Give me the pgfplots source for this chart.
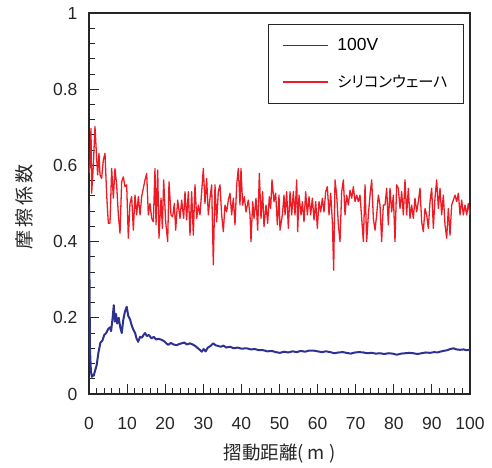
\documentclass[border=0pt]{standalone}
\usepackage{pgfplots}
\pgfplotsset{compat=1.18}
\usepackage{fontspec}
\setmainfont{Liberation Sans}
\newfontfamily\cjk{Noto Sans CJK JP}
\newfontfamily\cjkp[RawFeature={+palt}]{Noto Sans CJK JP}
\definecolor{cblue}{RGB}{46,49,146}
\definecolor{cred}{RGB}{237,28,36}
\begin{document}
\begin{tikzpicture}
\useasboundingbox (-89pt,-73pt) rectangle (403pt,394pt);
\begin{axis}[
  at={(0,0)}, anchor=south west,
  scale only axis, width=381pt, height=381pt,
  xmin=0, xmax=100, ymin=0, ymax=1,
  xtick={0,10,...,100}, ytick={0,0.2,...,1},
  minor x tick num=4, minor y tick num=4,
  tick align=inside, xtick pos=lower, ytick pos=left,
  major tick length=10pt, minor tick length=6pt,
  axis line style={black!85, line width=1.1pt},
  every tick/.style={black!85, line width=0.9pt},
  /pgf/number format/assume math mode=true,
  /pgf/number format/fixed,
  ticklabel style={font=\fontsize{17.5}{20}\selectfont, text=black!85},
  yticklabel style={xshift=-8pt},
  xticklabel style={yshift=-20pt},
  xlabel={\cjk 摺動距離( m )},
  ylabel={\cjk 摩\kern3pt擦\kern3pt係\kern3pt数},
  xlabel style={font=\fontsize{18.5}{20}\selectfont, at={(axis description cs:0.5,-0.155)}, anchor=center, text=black!85},
  ylabel style={font=\fontsize{19}{20}\selectfont, at={(axis description cs:-0.171,0.49)}, anchor=center, text=black!85},
  legend style={at={(0.984,0.971)}, anchor=north east, draw=black!85, line width=0.9pt,
    inner xsep=13.5pt, inner ysep=12pt, row sep=19pt,
    font=\fontsize{17.5}{20}\selectfont, cells={anchor=west}},
]
\addplot[cblue, line width=2pt, line join=round,
  legend image code/.code={\draw[draw=cblue, line width=1.4pt] (0pt,0pt) -- (45pt,0pt);}] coordinates {
(0,0.50) (0.25,0.12) (0.5,0.06) (0.75,0.045) (1,0.05) (1.25,0.048) (1.5,0.058) (2,0.075) (2.5,0.11) (3,0.135) (3.5,0.14) (4,0.155) (4.5,0.16) (5,0.17) (5.5,0.175) (5.8,0.165) (6.2,0.20) (6.5,0.233) (6.8,0.19) (7.1,0.21) (7.4,0.185) (7.8,0.20) (8.2,0.175) (8.6,0.16) (9,0.195) (9.4,0.215) (9.9,0.229) (10.3,0.205) (10.8,0.195) (11.2,0.18) (11.6,0.17) (12.1,0.16) (12.5,0.145) (12.9,0.137) (13.4,0.15) (13.9,0.148) (14.3,0.155) (14.7,0.16) (15.2,0.152) (15.7,0.155) (16.4,0.146) (17,0.15) (17.6,0.143) (18.3,0.145) (19.1,0.142) (19.8,0.138) (20.4,0.132) (20.8,0.129) (21.5,0.134) (22.2,0.13) (23,0.128) (23.6,0.131) (24.3,0.133) (25,0.135) (25.7,0.13) (26.5,0.133) (27.2,0.13) (27.9,0.126) (28.6,0.12) (29.2,0.115) (29.6,0.111) (30.1,0.118) (30.6,0.112) (31.2,0.122) (31.9,0.126) (32.6,0.133) (33.2,0.128) (33.9,0.126) (34.6,0.124) (35.3,0.127) (36,0.122) (37,0.124) (38,0.12) (39,0.122) (40,0.119) (41.4,0.12) (42.5,0.117) (43.5,0.118) (44.6,0.115) (45.7,0.115) (46.8,0.112) (48,0.113) (49,0.11) (50.1,0.108) (51.2,0.111) (52.3,0.109) (53.4,0.112) (54.5,0.11) (55.6,0.113) (56.7,0.111) (57.8,0.114) (58.9,0.114) (60,0.112) (61.1,0.11) (62.2,0.112) (63.3,0.11) (64.4,0.107) (65.5,0.109) (66.6,0.11) (67.6,0.108) (68.7,0.106) (69.8,0.109) (70.9,0.11) (72,0.109) (73.1,0.107) (74.2,0.108) (75.3,0.106) (76.4,0.107) (77.5,0.105) (78.6,0.107) (79.7,0.106) (80.8,0.103) (81.9,0.106) (83,0.107) (84.1,0.108) (85.1,0.107) (86.2,0.105) (87.3,0.107) (88.4,0.109) (89.5,0.108) (90.6,0.11) (91.5,0.109) (92.1,0.111) (93,0.113) (94,0.115) (94.8,0.118) (95.6,0.12) (96.5,0.117) (97.4,0.116) (98.3,0.117) (99.1,0.115) (100,0.116)
};
\addlegendentry{\hspace{7pt}100V}
\addplot[cred, line width=1.3pt, line join=round,
  legend image code/.code={\draw[draw=cred, line width=1.4pt] (0pt,0pt) -- (45pt,0pt);}] coordinates {
(0,0.58) (0.26,0.601) (0.52,0.697) (0.70,0.527) (1.14,0.601) (1.57,0.702) (2.01,0.619) (2.27,0.575) (2.62,0.632) (2.89,0.575) (3.32,0.566) (3.76,0.614) (4.2,0.632) (4.64,0.522) (5.07,0.448) (5.51,0.448) (5.95,0.592) (6.39,0.514) (6.82,0.592) (7.26,0.549) (7.7,0.470) (8.14,0.422) (8.57,0.557) (9.01,0.570) (9.45,0.544) (9.89,0.549) (10.32,0.409) (10.76,0.500) (11.2,0.518) (11.64,0.430) (12.07,0.522) (12.51,0.470) (12.95,0.518) (13.39,0.470) (13.82,0.518) (14.26,0.540) (14.7,0.562) (15.14,0.579) (15.57,0.470) (16.01,0.500) (16.45,0.461) (16.89,0.452) (17.32,0.592) (17.59,0.444) (18.03,0.588) (18.37,0.409) (18.9,0.514) (19.25,0.435) (19.6,0.562) (20.12,0.452) (20.65,0.400) (21.0,0.557) (21.52,0.470) (21.96,0.465) (22.4,0.500) (22.75,0.430) (23.27,0.509) (23.88,0.461) (24.32,0.509) (24.85,0.461) (25.2,0.531)
(25.63,0.457) (26.07,0.531) (26.51,0.417) (26.94,0.531) (27.38,0.417) (27.82,0.549) (28.26,0.461) (28.69,0.496) (29.13,0.470) (29.57,0.531) (30.01,0.592) (30.44,0.500) (30.88,0.566) (31.32,0.470) (31.76,0.514) (32.19,0.549) (32.63,0.339) (33.07,0.549) (33.51,0.452) (33.94,0.531) (34.38,0.549) (34.82,0.470) (35.26,0.426) (35.69,0.496) (36.13,0.478) (36.57,0.509) (37.01,0.527) (37.44,0.470) (37.88,0.514) (38.32,0.444) (38.76,0.549) (39.19,0.592) (39.63,0.496) (39.89,0.592) (40.33,0.496) (40.77,0.518) (41.21,0.478) (41.82,0.509) (42.26,0.470) (42.52,0.400) (42.96,0.505) (43.31,0.461) (43.83,0.514) (44.27,0.430) (44.71,0.579) (45.14,0.461) (45.58,0.531) (45.93,0.439) (46.46,0.496) (46.89,0.448) (47.33,0.518) (47.68,0.487) (48.03,0.562) (48.56,0.505) (48.99,0.527) (49.43,0.444) (49.87,0.522) (50.13,0.430)
(50.75,0.470) (51.18,0.522) (51.45,0.470) (51.88,0.531) (52.32,0.435) (52.76,0.531) (53.2,0.470) (53.63,0.531) (54.07,0.470) (54.51,0.562) (54.77,0.426) (55.12,0.522) (55.65,0.470) (56.0,0.505) (56.43,0.452) (56.87,0.531) (57.31,0.470) (57.75,0.518) (58.18,0.470) (58.62,0.514) (59.06,0.457) (59.5,0.505) (59.93,0.435) (60.37,0.505) (60.81,0.478) (61.25,0.514) (61.68,0.478) (62.12,0.531) (62.56,0.544) (63.0,0.470) (63.43,0.527) (63.87,0.452) (64.22,0.325) (64.57,0.562) (65.01,0.522) (65.45,0.444) (65.88,0.400) (66.32,0.531) (66.76,0.562) (67.2,0.470) (67.63,0.522) (68.07,0.496) (68.51,0.535) (68.95,0.514) (69.38,0.544) (69.82,0.505) (70.26,0.522) (70.7,0.505) (71.13,0.522) (71.57,0.461) (72.01,0.400) (72.45,0.549) (72.88,0.400) (73.32,0.470) (73.76,0.522) (74.2,0.562) (74.63,0.461) (75.07,0.430)
(75.5,0.470) (75.94,0.522) (76.38,0.496) (76.81,0.400) (77.25,0.496) (77.69,0.496) (78.13,0.540) (78.56,0.444) (79.0,0.540) (79.44,0.478) (79.88,0.522) (80.31,0.400) (80.75,0.549) (81.19,0.540) (81.63,0.487) (82.06,0.531) (82.5,0.470) (82.94,0.562) (83.38,0.470) (83.81,0.540) (84.25,0.461) (84.69,0.496) (85.13,0.461) (85.56,0.514) (86.0,0.478) (86.44,0.505) (86.88,0.540) (87.31,0.452) (87.75,0.426) (88.19,0.487) (88.63,0.470) (89.06,0.435) (89.5,0.505) (89.94,0.540) (90.38,0.435) (90.81,0.514) (91.25,0.562) (91.69,0.487) (92.13,0.540) (92.56,0.470) (93.0,0.522) (93.44,0.444) (93.88,0.409) (94.31,0.487) (94.75,0.417) (95.19,0.496) (95.63,0.509) (96.06,0.522) (96.5,0.505) (96.94,0.527) (97.38,0.470) (97.81,0.509) (98.25,0.470) (98.69,0.496) (99.13,0.470) (99.56,0.500) (100.0,0.470)
};
\addlegendentry{\hspace{7pt}\fontsize{15.3}{20}\selectfont\cjkp シリコンウェーハ}
\end{axis}
\end{tikzpicture}
\end{document}
